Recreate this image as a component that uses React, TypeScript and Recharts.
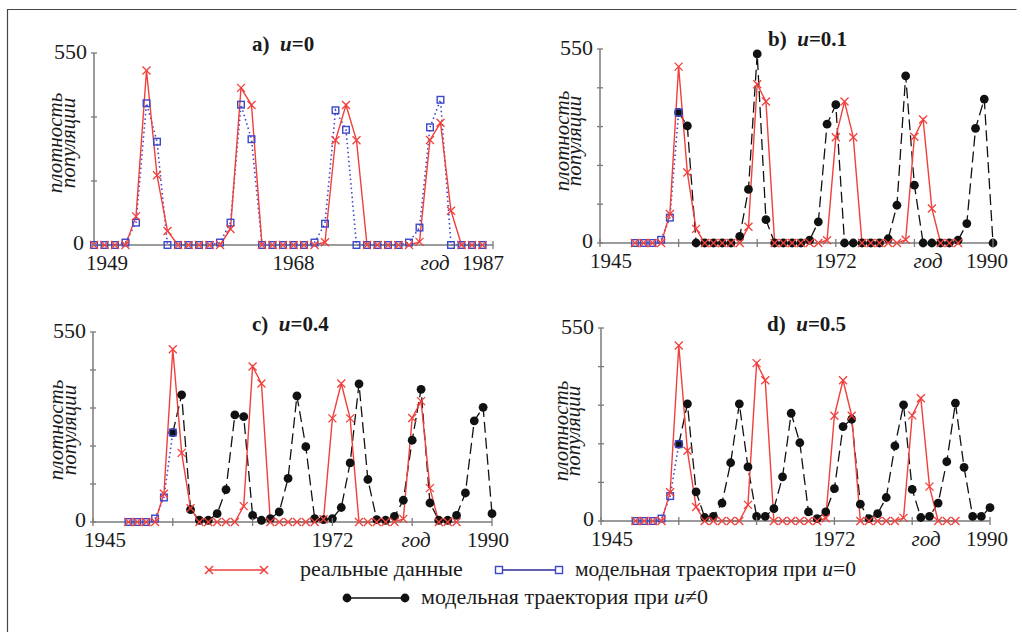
import React from 'react';
import { LineChart, Line, XAxis, YAxis } from 'recharts';

// ---------- DATA ----------
const realStartYear = 1949;
const realValues = [0, 0, 0, 0, 82, 500, 200, 40, 0, 0, 0, 0, 0, 46, 450, 401, 0, 0, 0, 0, 0, 0, 8, 300, 401, 300, 0, 0, 0, 0, 0, 9, 301, 350, 98, 0, 0, 0];

const model0StartYear = 1949;
const model0ValuesA = [0, 0, 0, 7, 64, 406, 296, 0, 0, 0, 0, 0, 7, 64, 402, 303, 0, 0, 0, 0, 0, 7, 61, 386, 330, 0, 0, 0, 0, 0, 7, 50, 337, 416, 0, 0, 0, 0];
const model0ValuesB = [0, 0, 0, 9, 72, 370];
const model0ValuesC = [0, 0, 0, 10, 71, 259];
const model0ValuesD = [0, 0, 0, 7, 71, 219];

const controlStartYear = 1954;
const modelUValuesB = [370, 332, 0, 0, 0, 0, 0, 19, 152, 536, 66, 0, 0, 0, 0, 8, 60, 337, 392, 0, 0, 0, 0, 0, 12, 107, 474, 164, 0, 0, 0, 0, 8, 55, 325, 408, 0];
const modelUValuesC = [259, 368, 36, 5, 5, 24, 94, 310, 305, 19, 5, 10, 29, 126, 365, 218, 10, 7, 10, 42, 171, 400, 123, 7, 5, 16, 63, 237, 384, 55, 5, 5, 19, 84, 293, 332, 24];
const modelUValuesD = [219, 334, 83, 10, 13, 51, 166, 334, 154, 13, 13, 35, 126, 307, 223, 26, 7, 26, 92, 269, 290, 48, 7, 21, 67, 214, 331, 90, 10, 13, 51, 169, 336, 153, 13, 13, 38];

const xDomainA: [number, number] = [1949, 1987];
const xTicksA = [1949, 1968, 1987];
const xDomainBCD: [number, number] = [1945, 1990];
const xTicksBCD = [1945, 1954, 1963, 1972, 1981, 1990];
const xLabelsBCD = [1945, 1972, 1990];
const yDomain: [number, number] = [0, 550];
const yTicksA = [0, 550 / 3, 1100 / 3, 550];
const yTicksBCD = [0, 110, 220, 330, 440, 550];
const yLabels = [0, 550];

const titles = ['0', '0.1', '0.4', '0.5'];
const yAxisTitle = ['плотность', 'популяции'];
const xAxisTitle = 'год';
const legendReal = 'реальные данные';
const legendModel = 'модельная траектория при ';

// ---------- STYLE ----------
const FONT = "'Liberation Serif', Tinos, 'Times New Roman', 'DejaVu Serif', serif";
const RED = '#f0403c';
const BLUE = '#3b46c8';
const BLACK = '#111';
const AXIS = '#7a7a7a';
const TEXT = '#1a1a1a';
const txt = (size: number, extra: React.CSSProperties = {}): React.CSSProperties => ({ fontFamily: FONT, fontSize: size, ...extra });

type Pt = { year: number; value: number };
const toSeries = (start: number, values: number[]): Pt[] => values.map((v, i) => ({ year: start + i, value: v }));

const CrossDot = (props: any) => {
  const { cx, cy, index } = props;
  if (cx == null || cy == null || Number.isNaN(cy)) return <g key={`c${index}`} />;
  const s = 4;
  return (
    <path key={`c${index}`} d={`M${cx - s},${cy - s}L${cx + s},${cy + s}M${cx - s},${cy + s}L${cx + s},${cy - s}`} stroke={RED} strokeWidth={1.3} fill="none" />
  );
};
const SquareDot = (props: any) => {
  const { cx, cy, index } = props;
  if (cx == null || cy == null || Number.isNaN(cy)) return <g key={`s${index}`} />;
  const s = 3.3;
  return <rect key={`s${index}`} x={cx - s} y={cy - s} width={2 * s} height={2 * s} stroke={BLUE} strokeWidth={1.4} fill="none" />;
};
const BlackDot = (props: any) => {
  const { cx, cy, index } = props;
  if (cx == null || cy == null || Number.isNaN(cy)) return <g key={`b${index}`} />;
  return <circle key={`b${index}`} cx={cx} cy={cy} r={4.4} fill={BLACK} stroke="none" />;
};

type PanelProps = {
  left: number;
  top: number;
  width: number;
  height: number;
  margin: { top: number; right: number; bottom: number; left: number };
  xDomain: [number, number];
  xTicks: number[];
  xLabels: number[];
  xMarks: number[];
  firstDx: number;
  lastDx: number;
  zeroDx: number;
  yTicks: number[];
  real: Pt[];
  model0: Pt[];
  modelU?: Pt[];
};

const Panel = (p: PanelProps) => {
  const xTick = (props: any) => {
    const { x, y, payload, index } = props;
    const v = payload.value;
    const isLabel = p.xLabels.includes(v);
    const isMark = p.xMarks.includes(v);
    let dx = 0;
    if (v === p.xDomain[0]) dx = p.firstDx;
    if (v === p.xDomain[1]) dx = p.lastDx;
    return (
      <g key={`xt${index}`}>
        {isMark && <line x1={x} x2={x} y1={y - 4} y2={y + 4} stroke={AXIS} strokeWidth={1.3} />}
        {isLabel && (
          <text x={x + dx} y={y + 25} textAnchor="middle" style={txt(21)} fill={TEXT}>
            {v}
          </text>
        )}
      </g>
    );
  };
  const yTick = (props: any) => {
    const { x, y, payload, index } = props;
    const v = payload.value;
    const isLabel = yLabels.some((l) => Math.abs(l - v) < 0.01);
    const isZero = Math.abs(v) < 0.01;
    return (
      <g key={`yt${index}`}>
        <line x1={x - 3} x2={x + 3} y1={y} y2={y} stroke={AXIS} strokeWidth={1.3} />
        {isLabel && (
          <text x={x - 7 + (isZero ? p.zeroDx : 0)} y={y + (isZero ? 5 : 6)} textAnchor="end" style={txt(22)} fill={TEXT}>
            {Math.round(v)}
          </text>
        )}
      </g>
    );
  };
  return (
    <div style={{ position: 'absolute', left: p.left, top: p.top }}>
      <LineChart width={p.width} height={p.height} margin={p.margin}>
        <XAxis
          type="number"
          dataKey="year"
          domain={p.xDomain}
          ticks={p.xTicks}
          interval={0}
          tickSize={0}
          tickMargin={0}
          tickLine={false}
          tick={xTick}
          axisLine={{ stroke: AXIS, strokeWidth: 1.5 }}
          height={30}
        />
        <YAxis
          type="number"
          domain={yDomain}
          ticks={p.yTicks}
          interval={0}
          tickSize={0}
          tickMargin={0}
          tickLine={false}
          tick={yTick}
          axisLine={{ stroke: AXIS, strokeWidth: 1.5 }}
          width={40}
        />
        {p.modelU && (
          <Line
            data={p.modelU}
            dataKey="value"
            type="linear"
            stroke={BLACK}
            strokeWidth={1.3}
            strokeDasharray="11 5"
            dot={BlackDot}
            activeDot={false}
            isAnimationActive={false}
          />
        )}
        <Line
          data={p.model0}
          dataKey="value"
          type="linear"
          stroke={BLUE}
          strokeWidth={1.6}
          strokeDasharray="1.5 3"
          dot={SquareDot}
          activeDot={false}
          isAnimationActive={false}
        />
        <Line
          data={p.real}
          dataKey="value"
          type="linear"
          stroke={RED}
          strokeWidth={1.4}
          dot={CrossDot}
          activeDot={false}
          isAnimationActive={false}
        />
      </LineChart>
    </div>
  );
};

const YTitle = ({ x1, x2, cy }: { x1: number; x2: number; cy: number }) => (
  <g fill={TEXT}>
    <text transform={`translate(${x1},${cy}) rotate(-90)`} textAnchor="middle" style={txt(21, { fontStyle: 'italic' })}>
      {yAxisTitle[0]}
    </text>
    <text transform={`translate(${x2},${cy}) rotate(-90)`} textAnchor="middle" style={txt(21, { fontStyle: 'italic' })}>
      {yAxisTitle[1]}
    </text>
  </g>
);

const Title = ({ x, y, letter, u }: { x: number; y: number; letter: string; u: string }) => (
  <text x={x} y={y} style={txt(21, { fontWeight: 'bold' })} fill={TEXT}>
    {letter}){'\u00a0\u00a0'}
    <tspan style={{ fontStyle: 'italic' }}>u</tspan>={u}
  </text>
);

export default function App() {
  const real = toSeries(realStartYear, realValues);
  const panels: PanelProps[] = [
    {
      left: 0, top: 0, width: 511, height: 300,
      margin: { top: 53, right: 18, bottom: 25, left: 54 },
      xDomain: xDomainA, xTicks: xTicksA, xLabels: xTicksA, xMarks: [1987], firstDx: 13, lastDx: -10, zeroDx: -3,
      yTicks: yTicksA, real, model0: toSeries(model0StartYear, model0ValuesA),
    },
    {
      left: 511, top: 0, width: 511, height: 300,
      margin: { top: 49, right: 29, bottom: 27, left: 49 },
      xDomain: xDomainBCD, xTicks: xTicksBCD, xLabels: xLabelsBCD, xMarks: xTicksBCD, firstDx: 11, lastDx: -6, zeroDx: 0,
      yTicks: yTicksBCD, real, model0: toSeries(model0StartYear, model0ValuesB), modelU: toSeries(controlStartYear, modelUValuesB),
    },
    {
      left: 0, top: 290, width: 511, height: 300,
      margin: { top: 42, right: 19, bottom: 38, left: 53 },
      xDomain: xDomainBCD, xTicks: xTicksBCD, xLabels: xLabelsBCD, xMarks: xTicksBCD, firstDx: 12, lastDx: -4, zeroDx: 0,
      yTicks: yTicksBCD, real, model0: toSeries(model0StartYear, model0ValuesC), modelU: toSeries(controlStartYear, modelUValuesC),
    },
    {
      left: 511, top: 290, width: 511, height: 300,
      margin: { top: 38, right: 32, bottom: 39, left: 50 },
      xDomain: xDomainBCD, xTicks: xTicksBCD, xLabels: xLabelsBCD, xMarks: xTicksBCD, firstDx: 11, lastDx: -3, zeroDx: 0,
      yTicks: yTicksBCD, real, model0: toSeries(model0StartYear, model0ValuesD), modelU: toSeries(controlStartYear, modelUValuesD),
    },
  ];

  return (
    <div style={{ position: 'absolute', left: 0, top: 0, width: 1022, height: 632, background: '#fff', overflow: 'hidden', fontFamily: FONT }}>
      {panels.map((p, i) => (
        <Panel key={i} {...p} />
      ))}
      <svg width={1022} height={632} style={{ position: 'absolute', left: 0, top: 0, pointerEvents: 'none' }}>
        <path d="M7.5,640 L7.5,9.5 L1016.5,9.5" stroke="#444" strokeWidth={1.2} fill="none" />
        <Title x={252} y={51} letter="a" u={titles[0]} />
        <Title x={768} y={46} letter="b" u={titles[1]} />
        <Title x={252} y={331} letter="c" u={titles[2]} />
        <Title x={767} y={331} letter="d" u={titles[3]} />
        <YTitle x1={62} x2={75} cy={143} />
        <YTitle x1={569} x2={581} cy={141} />
        <YTitle x1={63} x2={76} cy={430} />
        <YTitle x1={568} x2={580} cy={431} />
        <g fill={TEXT} textAnchor="middle">
          <text x={435} y={270} style={txt(21, { fontStyle: 'italic' })}>{xAxisTitle}</text>
          <text x={928} y={268} style={txt(21, { fontStyle: 'italic' })}>{xAxisTitle}</text>
          <text x={416} y={547} style={txt(21, { fontStyle: 'italic' })}>{xAxisTitle}</text>
          <text x={926} y={546} style={txt(21, { fontStyle: 'italic' })}>{xAxisTitle}</text>
        </g>
        {/* legend */}
        <g>
          <line x1={209} x2={264} y1={570} y2={570} stroke={RED} strokeWidth={1.5} />
          <path d="M205,566L213,574M205,574L213,566M260,566L268,574M260,574L268,566" stroke={RED} strokeWidth={1.5} />
          <text x={300} y={576} style={txt(22)} fill={TEXT}>{legendReal}</text>
          <line x1={499} x2={559} y1={570} y2={570} stroke="#2a2a9a" strokeWidth={1.5} />
          <rect x={495.5} y={566.5} width={7} height={7} stroke={BLUE} strokeWidth={1.4} fill="#fff" />
          <rect x={555.5} y={566.5} width={7} height={7} stroke={BLUE} strokeWidth={1.4} fill="#fff" />
          <text x={575} y={576} style={txt(21.5)} fill={TEXT}>
            {legendModel}
            <tspan style={{ fontStyle: 'italic' }}>u</tspan>=0
          </text>
          <line x1={347} x2={405} y1={598} y2={598} stroke={BLACK} strokeWidth={1.5} />
          <circle cx={347} cy={598} r={4.4} fill={BLACK} />
          <circle cx={405} cy={598} r={4.4} fill={BLACK} />
          <text x={421} y={604} style={txt(22)} fill={TEXT}>
            {legendModel}
            <tspan style={{ fontStyle: 'italic' }}>u</tspan>≠0
          </text>
        </g>
      </svg>
    </div>
  );
}
